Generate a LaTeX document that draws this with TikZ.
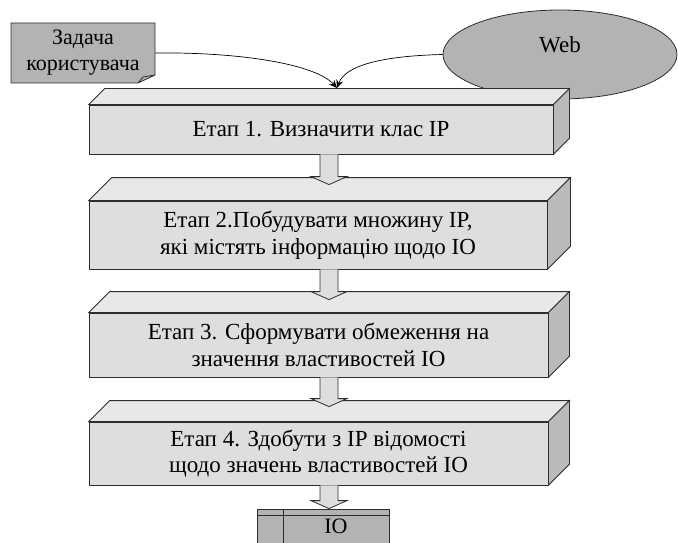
\documentclass[tikz,border=0pt]{standalone}
\usepackage{fontspec}
\setmainfont{Liberation Serif}
\usetikzlibrary{calc,shapes.geometric,arrows.meta}

\definecolor{facefront}{RGB}{222,222,222}
\definecolor{facetop}{RGB}{232,232,232}
\definecolor{faceside}{RGB}{186,186,186}
\definecolor{darkfill}{RGB}{179,179,179}
\definecolor{edgegray}{RGB}{45,45,45}

% top and side faces of a stage box: node, depth
\newcommand{\boxfaces}[2]{%
  \draw[edge] (#1.north west) -- ++(#2,-#2) -- ($(#1.north east)+(#2,-#2)$) -- (#1.north east) -- cycle;
  \draw[edge,fill=faceside] (#1.north east) -- ++(#2,-#2) -- ($(#1.south east)+(#2,-#2)$) -- (#1.south east) -- cycle;
}
% block arrow: start of shaft, tip
\newcommand{\blockarrow}[2]{%
  \path (#1) coordinate (ba-from) (#2) coordinate (ba-to);
  \draw[edge,fill=facefront] ($(ba-from)+(-9,0)$) -- ($(ba-to)+(-9,-8)$) -- ($(ba-to)+(-18,-8)$) -- (ba-to)
    -- ($(ba-to)+(18,-8)$) -- ($(ba-to)+(9,-8)$) -- ($(ba-from)+(9,0)$);
}

\begin{document}
\begin{tikzpicture}[x=1pt,y=-1pt,
  every node/.style={font=\rmfamily\fontsize{22}{26}\selectfont,align=center},
  edge/.style={draw=edgegray,line width=0.8pt,fill=facetop},
  stage/.style={draw=edgegray,line width=0.8pt,fill=facefront,inner sep=0pt,
    font=\rmfamily\fontsize{23}{26.5}\selectfont},
  link/.style={draw=black,line width=0.7pt,-{Stealth[length=8pt,width=7pt]}}]
\clip (0,0) rectangle (678,543);

% sources
\node[ellipse,draw=edgegray,line width=0.8pt,fill=darkfill,minimum width=234pt,minimum height=89pt,
  inner sep=0pt,text depth=20pt,font=\rmfamily\fontsize{23}{26}\selectfont] (web) at (560,54.5) {Web};
\filldraw[draw=edgegray,line width=0.8pt,fill=darkfill] (11,23) -- (155,23) -- (155,75) -- (138,83) -- (11,83) -- cycle
  (138,83) -- (143,77) -- (155,75)
  (83,53) node[minimum width=144pt,minimum height=60pt,inner sep=0pt] (task) {Задача\\користувача};

% stages
\node[stage,minimum width=464pt,minimum height=49pt] (stage1) at (321,129.5) {Етап 1. Визначити клас IP};
\boxfaces{stage1}{16}
\node[stage,minimum width=458pt,minimum height=68pt] (stage2) at (318,235) {Етап 2.Побудувати множину IP,\\які містять інформацію щодо IO};
\boxfaces{stage2}{23}
\node[stage,minimum width=459pt,minimum height=64pt] (stage3) at (318.5,345) {Етап 3. Сформувати обмеження на\\значення властивостей IO};
\boxfaces{stage3}{21}
\node[stage,minimum width=459pt,minimum height=63pt] (stage4) at (318.5,453.5) {Етап 4. Здобути з IP відомості\\щодо значень властивостей IO};
\boxfaces{stage4}{21}

% result
\filldraw[draw=edgegray,line width=0.8pt,fill=darkfill] (257,545) -- (257,509) -- (389,509) -- (389,545)
  (257,515) -- (389,515) (283,509) -- (283,545)
  (336,526) node[minimum width=106pt,minimum height=34pt,inner sep=0pt] (store) {IO};

% links
\coordinate (axis) at (329,0);
\coordinate (join) at (337,88);
\draw[link] (task.east) .. controls (240,52) and (315,64) .. (join);
\draw[link] (web.west) .. controls (380,56) and (345,66) .. (join);

\path (stage2.north -| axis) ++(0,-16) coordinate (tip2);
\path (stage3.north -| axis) ++(0,-13) coordinate (tip3);
\path (stage4.north -| axis) ++(0,-15) coordinate (tip4);
\blockarrow{stage1.south -| axis}{tip2}
\blockarrow{stage2.south -| axis}{tip3}
\blockarrow{stage3.south -| axis}{tip4}
\blockarrow{stage4.south -| axis}{store.north -| axis}
\end{tikzpicture}
\end{document}
